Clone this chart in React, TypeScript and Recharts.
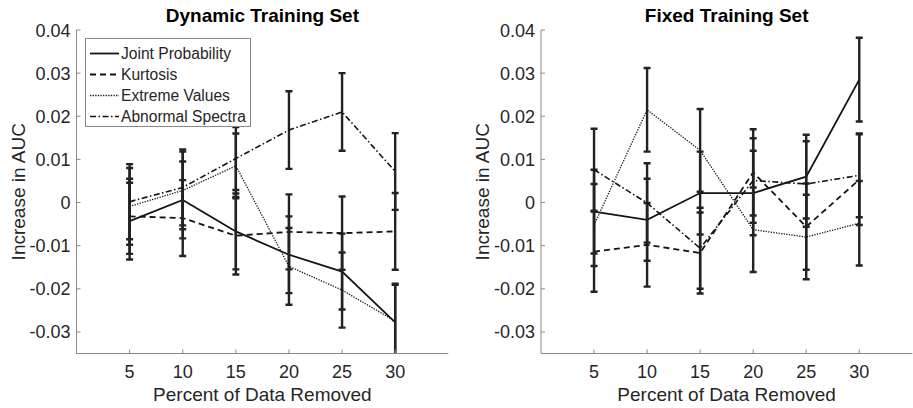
import React from 'react';
import { LineChart, Line, XAxis, YAxis, ErrorBar, Legend } from 'recharts';

// ---------- data ----------
const percentRemoved = [5, 10, 15, 20, 25, 30];
const xTicks = [5, 10, 15, 20, 25, 30];
const yTicks = [-0.03, -0.02, -0.01, 0, 0.01, 0.02, 0.03, 0.04];
const xDomain = [0, 35];
const yDomain = [-0.035, 0.04];

const seriesNames = ['Joint Probability', 'Kurtosis', 'Extreme Values', 'Abnormal Spectra'];
const panelTitles = ['Dynamic Training Set', 'Fixed Training Set'];
const xLabel = 'Percent of Data Removed';
const yLabel = 'Increase in AUC';

// Dynamic training set
const dynJoint = [-0.0043, 0.0006, -0.0067, -0.0121, -0.016, -0.0278];
const dynJointErr = [0.0089, 0.0089, 0.0088, 0.0089, 0.0088, 0.0087];
const dynKurt = [-0.0032, -0.0036, -0.0077, -0.0068, -0.0071, -0.0067];
const dynKurtErr = [0.0087, 0.0088, 0.009, 0.0087, 0.0085, 0.0089];
const dynExtreme = [-0.0009, 0.0028, 0.0085, -0.0148, -0.0203, -0.0275];
const dynExtremeErr = [0.0089, 0.009, 0.0075, 0.0089, 0.0087, 0.0087];
const dynAbnormal = [0.0002, 0.0035, 0.0102, 0.0168, 0.021, 0.0072];
const dynAbnormalErr = [0.0087, 0.0088, 0.0073, 0.009, 0.009, 0.0089];

// Fixed training set
const fixJoint = [-0.0021, -0.004, 0.0022, 0.0022, 0.006, 0.0285];
const fixJointErr = [0.0097, 0.0095, 0.0096, 0.0098, 0.0097, 0.0097];
const fixKurt = [-0.0114, -0.0098, -0.0117, 0.007, -0.0056, 0.0053];
const fixKurtErr = [0.0093, 0.0097, 0.0094, 0.01, 0.01, 0.0105];
const fixExtreme = [-0.0052, 0.0215, 0.0121, -0.0063, -0.008, -0.0048];
const fixExtremeErr = [0.0095, 0.0097, 0.0096, 0.0098, 0.0098, 0.0098];
const fixAbnormal = [0.0076, -0.0001, -0.0106, 0.0051, 0.0043, 0.0063];
const fixAbnormalErr = [0.0095, 0.0092, 0.0094, 0.0098, 0.0099, 0.0097];

// ---------- styling ----------
const FONT = '"Liberation Sans", Arial, Helvetica, sans-serif';
const AXIS = '#8a8a8a';
const TEXT = '#262626';
const LINE = '#141414';

const seriesStyles = [
  { key: 'joint', dash: undefined as string | undefined, width: 1.8 },
  { key: 'kurt', dash: '6 4', width: 1.8 },
  { key: 'extreme', dash: '1.3 1.3', width: 1.3 },
  { key: 'abnormal', dash: '6 2.5 1.5 2.5', width: 1.6 },
];

// plot-area layout of the two panels (chart-local coordinates)
const PLOT_TOP = 30;
const PLOT_BOTTOM = 353.5;
const panels = [
  { left: 0, width: 460, yAxisWidth: 76.5, rightMargin: 11.7, clipId: 'plot-clip-dyn' },
  { left: 460, width: 453, yAxisWidth: 81, rightMargin: 0.7, clipId: 'plot-clip-fix' },
];

function buildRows(vals: number[][], errs: number[][]) {
  return percentRemoved.map((p, i) => {
    const row: any = { pct: p };
    seriesStyles.forEach((s, k) => {
      row[s.key] = vals[k][i];
      row[s.key + 'Err'] = errs[k][i];
    });
    return row;
  });
}

const dynRows = buildRows(
  [dynJoint, dynKurt, dynExtreme, dynAbnormal],
  [dynJointErr, dynKurtErr, dynExtremeErr, dynAbnormalErr]
);
const fixRows = buildRows(
  [fixJoint, fixKurt, fixExtreme, fixAbnormal],
  [fixJointErr, fixKurtErr, fixExtremeErr, fixAbnormalErr]
);

const fmtY = (v: number) => (Math.abs(v) < 1e-9 ? '0' : v.toFixed(2));

const BottomTick = (p: any) => (
  <g>
    <line x1={p.x} y1={p.y} x2={p.x} y2={p.y - 4} stroke={AXIS} strokeWidth={1} />
    <text x={p.x} y={p.y + 24.5} textAnchor="middle" fontSize={18} fontFamily={FONT} fill={TEXT}>
      {p.payload.value}
    </text>
  </g>
);
const TopTick = (p: any) => (
  <line x1={p.x} y1={p.y} x2={p.x} y2={p.y + 4} stroke={AXIS} strokeWidth={1} />
);
const LeftTick = (p: any) => (
  <g>
    <line x1={p.x} y1={p.y} x2={p.x + 4} y2={p.y} stroke={AXIS} strokeWidth={1} />
    <text x={p.x - 6} y={p.y + 6.5} textAnchor="end" fontSize={18} fontFamily={FONT} fill={TEXT}>
      {fmtY(p.payload.value)}
    </text>
  </g>
);
const RightTick = (p: any) => (
  <line x1={p.x} y1={p.y} x2={p.x - 4} y2={p.y} stroke={AXIS} strokeWidth={1} />
);

const renderLegend = (props: any) => {
  const payload = [...(props.payload || [])].sort(
    (a: any, b: any) =>
      seriesStyles.findIndex((s) => s.key === a.dataKey) - seriesStyles.findIndex((s) => s.key === b.dataKey)
  );
  return (
    <div
      style={{
        width: 166,
        height: 89,
        boxSizing: 'border-box',
        border: `1px solid ${AXIS}`,
        background: '#fff',
        paddingTop: 3.5,
      }}
    >
      {payload.map((e: any) => {
        const st = seriesStyles.find((s) => s.key === e.dataKey) || seriesStyles[0];
        return (
          <div key={String(e.dataKey)} style={{ height: 21, display: 'flex', alignItems: 'center' }}>
            <svg width={35} height={21} style={{ display: 'block', flex: 'none' }}>
              <line
                x1={4}
                x2={33}
                y1={10.5}
                y2={10.5}
                stroke={LINE}
                strokeWidth={st.width}
                strokeDasharray={st.dash}
              />
            </svg>
            <span style={{ fontSize: 15.6, fontFamily: FONT, color: TEXT, whiteSpace: 'nowrap', lineHeight: '21px' }}>
              {e.value}
            </span>
          </div>
        );
      })}
    </div>
  );
};

type PanelProps = {
  rows: any[];
  title: string;
  width: number;
  yAxisWidth: number;
  rightMargin: number;
  showLegend: boolean;
};

function Panel({ rows, title, width, yAxisWidth, rightMargin, showLegend }: PanelProps) {
  return (
    <LineChart
      width={width}
      height={408}
      data={rows}
      margin={{ top: PLOT_TOP, right: rightMargin, bottom: 0, left: 0 }}
    >
      <XAxis
        xAxisId="b"
        dataKey="pct"
        type="number"
        domain={xDomain}
        ticks={xTicks}
        allowDataOverflow
        height={408 - PLOT_BOTTOM}
        axisLine={{ stroke: AXIS, strokeWidth: 1 }}
        tickLine={false}
        tickSize={0}
        tickMargin={0}
        tick={BottomTick}
        interval={0}
        label={(lp: any) => {
          const vb = lp.viewBox || {};
          return (
            <text
              x={vb.x + vb.width / 2}
              y={vb.y + 47.5}
              textAnchor="middle"
              fontSize={19}
              fontFamily={FONT}
              fill={TEXT}
            >
              {xLabel}
            </text>
          );
        }}
      />
      <XAxis
        xAxisId="t"
        orientation="top"
        dataKey="pct"
        type="number"
        domain={xDomain}
        ticks={xTicks}
        allowDataOverflow
        height={0}
        axisLine={{ stroke: AXIS, strokeWidth: 1 }}
        tickLine={false}
        tickSize={0}
        tickMargin={0}
        tick={TopTick}
        interval={0}
      />
      <YAxis
        yAxisId="l"
        type="number"
        domain={yDomain}
        ticks={yTicks}
        allowDataOverflow
        width={yAxisWidth}
        axisLine={{ stroke: AXIS, strokeWidth: 1 }}
        tickLine={false}
        tickSize={0}
        tickMargin={0}
        tick={LeftTick}
        interval={0}
        label={(lp: any) => {
          const vb = lp.viewBox || {};
          const cx = vb.x + vb.width - 52;
          const cy = vb.y + vb.height / 2;
          const plotCx = vb.x + vb.width + (width - rightMargin - vb.x - vb.width) / 2;
          return (
            <g>
              <text
                x={cx}
                y={cy}
                transform={`rotate(-90 ${cx} ${cy})`}
                textAnchor="middle"
                fontSize={19}
                fontFamily={FONT}
                fill={TEXT}
              >
                {yLabel}
              </text>
              <text
                x={plotCx}
                y={vb.y - 8}
                textAnchor="middle"
                fontSize={19}
                fontWeight="bold"
                fontFamily={FONT}
                fill="#000"
              >
                {title}
              </text>
            </g>
          );
        }}
      />
      <YAxis
        yAxisId="r"
        orientation="right"
        type="number"
        domain={yDomain}
        ticks={yTicks}
        allowDataOverflow
        width={0}
        axisLine={{ stroke: AXIS, strokeWidth: 1 }}
        tickLine={false}
        tickSize={0}
        tickMargin={0}
        tick={RightTick}
        interval={0}
      />
      {seriesStyles.map((s, k) => (
        <Line
          key={s.key}
          xAxisId="b"
          yAxisId="l"
          type="linear"
          dataKey={s.key}
          name={seriesNames[k]}
          stroke={LINE}
          strokeWidth={s.width}
          strokeDasharray={s.dash}
          dot={false}
          activeDot={false}
          isAnimationActive={false}
        >
          <ErrorBar
            dataKey={s.key + 'Err'}
            direction="y"
            width={3.5}
            stroke="#222"
            strokeWidth={2.4}
            isAnimationActive={false}
          />
        </Line>
      ))}
      {showLegend && (
        <Legend
          layout="vertical"
          align="center"
          verticalAlign="middle"
          content={renderLegend}
          wrapperStyle={{ left: 85, top: 38, width: 166, height: 89 }}
        />
      )}
    </LineChart>
  );
}

export default function App() {
  const rowsByPanel = [dynRows, fixRows];
  return (
    <div style={{ position: 'absolute', left: 0, top: 0, width: 913, height: 408, background: '#fff' }}>
      <svg width={0} height={0} style={{ position: 'absolute', left: 0, top: 0 }}>
        <defs>
          {panels.map((p) => (
            <clipPath key={p.clipId} id={p.clipId} clipPathUnits="userSpaceOnUse">
              <rect
                x={p.yAxisWidth}
                y={PLOT_TOP}
                width={p.width - p.rightMargin - p.yAxisWidth}
                height={PLOT_BOTTOM - PLOT_TOP}
              />
            </clipPath>
          ))}
        </defs>
      </svg>
      <style>
        {panels.map((p) => `.${p.clipId} .recharts-errorBars, .${p.clipId} .recharts-errorBar { clip-path: url(#${p.clipId}); }`).join('\n')}
      </style>
      {panels.map((p, i) => (
        <div key={p.clipId} className={p.clipId} style={{ position: 'absolute', left: p.left, top: 0 }}>
          <Panel
            rows={rowsByPanel[i]}
            title={panelTitles[i]}
            width={p.width}
            yAxisWidth={p.yAxisWidth}
            rightMargin={p.rightMargin}
            showLegend={i === 0}
          />
        </div>
      ))}
    </div>
  );
}
